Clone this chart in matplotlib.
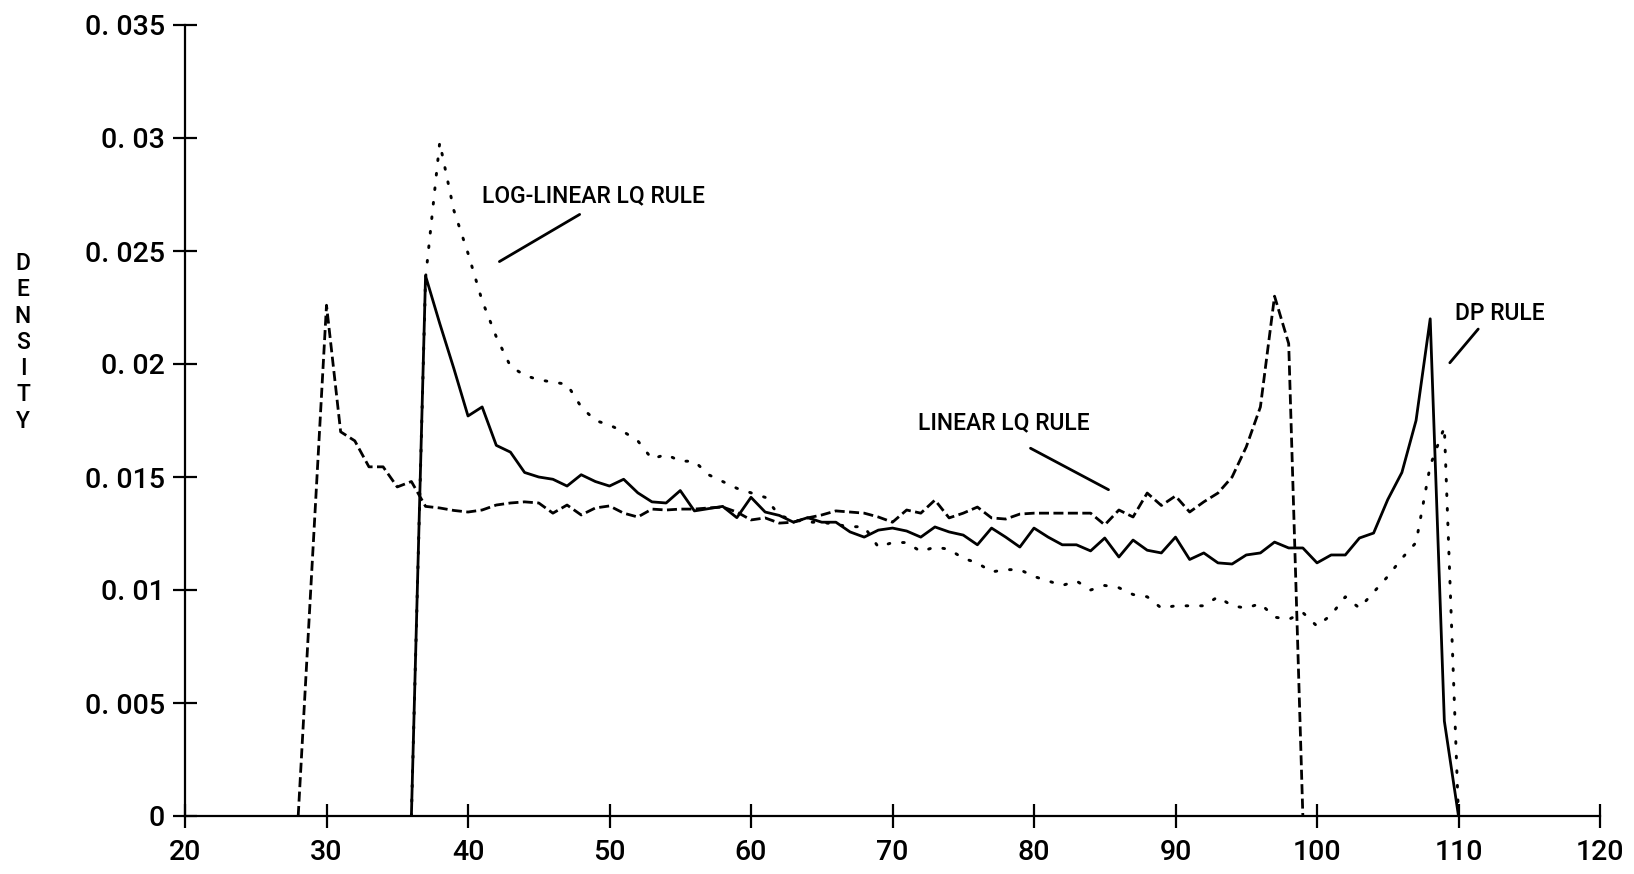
import matplotlib
matplotlib.use('Agg')
import matplotlib.pyplot as plt

plt.rcParams['font.family'] = ['Roboto', 'DejaVu Sans']
plt.rcParams['font.weight'] = 'medium'

# DP rule (solid)
dp_x = [36, 37, 38, 39, 40, 41, 42, 43, 44, 45, 46, 47, 48, 49, 50, 51, 52, 53, 54, 55,
        56, 57, 58, 59, 60, 61, 62, 63, 64, 65, 66, 67, 68, 69, 70, 71, 72, 73, 74, 75,
        76, 77, 78, 79, 80, 81, 82, 83, 84, 85, 86, 87, 88, 89, 90, 91, 92, 93, 94, 95,
        96, 97, 98, 99, 100, 101, 102, 103, 104, 105, 106, 107, 108, 109, 110]
dp_y = [0.0, 0.0239, 0.0218, 0.0198, 0.0177, 0.0181, 0.0164, 0.0161, 0.0152, 0.0150,
        0.0149, 0.0146, 0.0151, 0.0148, 0.0146, 0.0149, 0.0143, 0.0139, 0.01385, 0.0144,
        0.0135, 0.0136, 0.0137, 0.0132, 0.0141, 0.01345, 0.0133, 0.0130, 0.0132, 0.0130,
        0.0130, 0.01257, 0.01234, 0.01265, 0.01274, 0.01261, 0.01234, 0.01279, 0.01257, 0.01243,
        0.0120, 0.01274, 0.01234, 0.0119, 0.01274, 0.01234, 0.0120, 0.0120, 0.01173, 0.0123,
        0.01146, 0.01221, 0.01176, 0.01164, 0.01234, 0.01135, 0.01164, 0.0112, 0.01115, 0.01155,
        0.01164, 0.01212, 0.01186, 0.01186, 0.0112, 0.01155, 0.01155, 0.0123, 0.01252, 0.0140,
        0.0152, 0.0175, 0.0220, 0.0042, 0.0]

# linear LQ rule (dashed)
lin_x = [28, 30, 31, 32, 33, 34, 35, 36, 37, 38, 39, 40, 41, 42, 43, 44, 45, 46, 47, 48,
         49, 50, 51, 52, 53, 54, 55, 56, 57, 58, 59, 60, 61, 62, 63, 64, 65, 66, 67, 68,
         69, 70, 71, 72, 73, 74, 75, 76, 77, 78, 79, 80, 81, 82, 83, 84, 85, 86, 87, 88,
         89, 90, 91, 92, 93, 94, 95, 96, 97, 98, 99]
lin_y = [0.0, 0.0226, 0.0170, 0.0166, 0.01545, 0.01545, 0.01456, 0.0148, 0.0137, 0.01363,
         0.01352, 0.01345, 0.01354, 0.01376, 0.01385, 0.0139, 0.01385, 0.0134, 0.01376, 0.01332,
         0.01363, 0.01372, 0.0134, 0.01323, 0.01358, 0.01354, 0.01358, 0.01358, 0.01363, 0.01367,
         0.01345, 0.0131, 0.01319, 0.01296, 0.0130, 0.01319, 0.01332, 0.0135, 0.01345, 0.0134,
         0.01323, 0.0130, 0.01354, 0.0134, 0.01398, 0.01319, 0.0134, 0.01367, 0.01319, 0.01314,
         0.01336, 0.0134, 0.0134, 0.0134, 0.0134, 0.0134, 0.01288, 0.01354, 0.01323, 0.01429,
         0.01374, 0.01416, 0.01345, 0.0139, 0.01429, 0.0150, 0.01633, 0.0181, 0.0230, 0.0209,
         0.0]

# log-linear LQ rule (dotted)
log_x = [36, 37, 38, 39, 40, 41, 42, 43, 44, 45, 46, 47, 48, 49, 50, 51, 52, 53, 54, 55,
         56, 57, 58, 59, 60, 61, 62, 63, 64, 65, 66, 67, 68, 69, 70, 71, 72, 73, 74, 75,
         76, 77, 78, 79, 80, 81, 82, 83, 84, 85, 86, 87, 88, 89, 90, 91, 92, 93, 94, 95,
         96, 97, 98, 99, 100, 101, 102, 103, 104, 105, 106, 107, 108, 109, 110]
log_y = [0.0, 0.0238, 0.0298, 0.0268, 0.0249, 0.0228, 0.0212, 0.0199, 0.0195, 0.0193,
         0.0192, 0.0191, 0.0181, 0.0175, 0.0173, 0.0170, 0.0166, 0.0158, 0.0160, 0.0157,
         0.0157, 0.0151, 0.0148, 0.0145, 0.0143, 0.0141, 0.0133, 0.0131, 0.0130, 0.0130,
         0.0129, 0.0128, 0.0128, 0.0119, 0.0121, 0.0121, 0.0117, 0.0119, 0.0118, 0.0114,
         0.0112, 0.0108, 0.0109, 0.0109, 0.0106, 0.0104, 0.0102, 0.0104, 0.0100, 0.0102,
         0.0101, 0.0098, 0.0097, 0.0092, 0.0093, 0.0093, 0.0093, 0.0097, 0.0093, 0.0092,
         0.0094, 0.0088, 0.0087, 0.0090, 0.0084, 0.0089, 0.0097, 0.0092, 0.0099, 0.0106,
         0.0114, 0.0121, 0.0155, 0.0172, 0.0]

x_ticks = [20, 30, 40, 50, 60, 70, 80, 90, 100, 110, 120]
y_ticks = [0, 0.005, 0.01, 0.015, 0.02, 0.025, 0.03, 0.035]
y_tick_labels = ['0', '0. 005', '0. 01', '0. 015', '0. 02', '0. 025', '0. 03', '0. 035']

W, H = 1634, 874
fig = plt.figure(figsize=(W / 100, H / 100), dpi=100)
ax = fig.add_axes([185 / W, 58 / H, 1415 / W, 791 / H])

ax.plot(log_x, log_y, color='black', lw=2.1, linestyle=(0, (0.6, 4.4)),
        dash_capstyle='round')
ax.plot(lin_x, lin_y, color='black', lw=2.0, linestyle=(0, (3.6, 1.6)))
ax.plot(dp_x, dp_y, color='black', lw=2.0)

ax.set_xlim(20, 120)
ax.set_ylim(0, 0.035)
ax.set_xticks(x_ticks)
ax.set_xticklabels([str(t) for t in x_ticks])
ax.set_yticks(y_ticks)
ax.set_yticklabels(y_tick_labels)

for s in ['top', 'right']:
    ax.spines[s].set_visible(False)
for s in ['left', 'bottom']:
    ax.spines[s].set_linewidth(1.6)

ax.tick_params(direction='inout', length=17, width=1.6, labelsize=20.5, colors='black')
ax.tick_params(axis='y', pad=6)
ax.tick_params(axis='x', pad=8)

lbl = dict(fontsize=16.5, color='black', ha='left', va='baseline')
ax.text(40.99, 0.02717, 'LOG-LINEAR LQ RULE', **lbl)
ax.annotate('', xy=(42.05, 0.02447), xytext=(48.06, 0.02668),
            arrowprops=dict(arrowstyle='-', lw=2.0, color='black'))
ax.text(71.8, 0.0171, 'LINEAR LQ RULE', **lbl)
ax.annotate('', xy=(85.44, 0.01438), xytext=(79.58, 0.01633),
            arrowprops=dict(arrowstyle='-', lw=2.0, color='black'))
ax.text(109.75, 0.02195, 'DP RULE', **lbl)
ax.annotate('', xy=(109.26, 0.01996), xytext=(111.52, 0.02164),
            arrowprops=dict(arrowstyle='-', lw=2.0, color='black'))

# vertical stacked y label
for i, ch in enumerate('DENSITY'):
    fig.text(23 / W, 1 - (270 + i * 26.3) / H, ch, fontsize=16.5,
             ha='center', va='baseline')

fig.savefig('out.png', dpi=100, facecolor='white')
